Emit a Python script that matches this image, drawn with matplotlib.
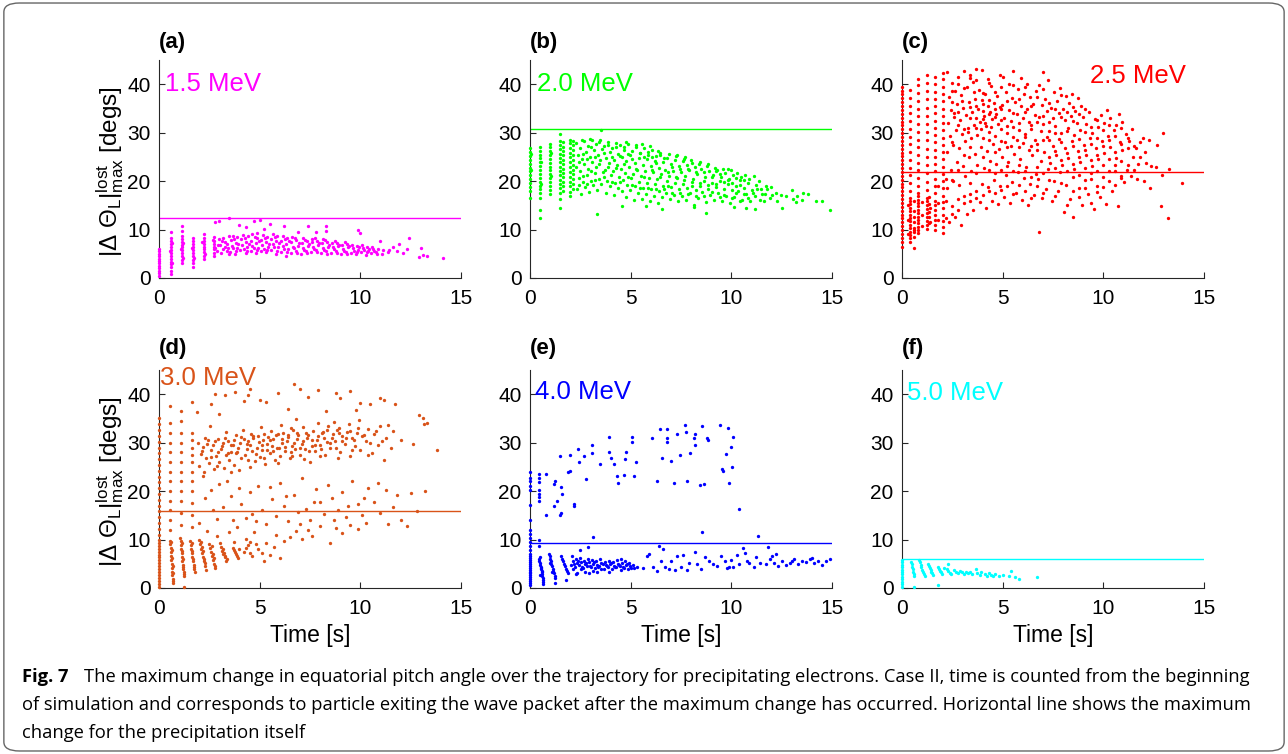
import numpy as np
import matplotlib.pyplot as plt
from matplotlib.patches import FancyBboxPatch

# ---- data (time [s], max pitch angle change [deg]) ----
energies = ['1.5 MeV', '2.0 MeV', '2.5 MeV', '3.0 MeV', '4.0 MeV', '5.0 MeV']
panels = ['(a)', '(b)', '(c)', '(d)', '(e)', '(f)']
levels = [12.3, 30.7, 21.8, 15.9, 9.2, 5.9]   # max change for the precipitation itself

# vertical stripes of points released at (almost) the same time
stripes_a = [
    (0.02, [0.5, 1.0, 1.5, 2.0, 2.5, 3.0, 3.5, 4.0, 4.5, 5.0, 5.5, 6.0]),
    (0.60, [0.8, 1.5, 2.2, 2.8, 3.4, 4.0, 4.6, 5.2, 5.8, 6.4, 7.0, 7.6, 8.2, 9.4]),
    (1.15, [3.0, 3.8, 4.5, 5.1, 5.7, 6.3, 6.9, 7.5, 8.0, 8.6, 9.8, 10.7]),
    (1.70, [2.2, 3.0, 3.8, 4.5, 5.2, 5.8, 6.4, 7.0, 7.6, 8.3]),
    (2.22, [3.9, 4.6, 5.3, 5.9, 6.5, 7.1, 7.7, 8.3, 9.0]),
    (2.75, [4.5, 5.2, 5.9, 6.5, 7.1, 7.7, 8.4]),
]
pts_a = [
    (2.9, 5.5), (2.95, 6.8), (2.98, 8.0), (3.1, 5.2), (3.2, 6.0), (3.05, 6.8), (3.3, 7.5), (3.2, 8.3),
    (3.4, 5.6), (3.4, 7.0), (3.5, 8.6), (3.3, 6.4), (3.5, 4.9), (3.15, 7.7), (3.45, 6.2),
    (3.55, 5.4), (3.64, 6.6), (3.58, 7.8), (3.66, 8.7), (3.8, 5.0), (3.9, 6.2), (3.83, 7.3), (3.88, 8.4),
    (4.05, 5.7), (4.14, 6.9), (4.08, 8.0), (4.16, 8.9), (4.3, 5.2), (4.38, 6.4), (4.33, 7.5), (4.4, 8.6),
    (4.55, 5.5), (4.64, 6.7), (4.58, 7.7), (4.62, 9.0), (4.8, 5.1), (4.9, 6.1), (4.83, 7.2), (4.88, 8.3),
    (4.86, 9.2), (5.05, 5.6), (5.14, 6.8), (5.08, 7.9), (5.16, 8.8), (5.3, 5.3), (5.4, 6.3), (5.33, 7.4),
    (5.38, 8.5), (5.55, 5.8), (5.64, 7.0), (5.58, 8.1), (5.66, 9.1), (5.8, 5.0), (5.9, 6.5), (5.83, 7.6),
    (5.88, 8.7), (6.05, 5.4), (6.14, 6.6), (6.08, 7.7), (6.16, 8.6), (6.3, 4.6), (6.4, 5.9), (6.33, 7.1),
    (6.38, 8.3), (6.55, 5.2), (6.64, 6.4), (6.58, 7.5), (6.62, 8.5), (6.8, 5.6), (6.9, 6.7), (6.83, 7.8),
    (7.05, 5.0), (7.14, 6.2), (7.08, 7.3), (7.16, 8.3), (7.3, 5.5), (7.4, 6.6), (7.33, 7.6),
    (7.55, 5.3), (7.64, 6.4), (7.58, 7.4), (7.62, 8.1), (7.8, 5.7), (7.9, 6.8), (7.83, 7.7),
    (8.05, 5.1), (8.14, 6.2), (8.08, 7.2), (8.16, 8.0), (8.3, 5.5), (8.4, 6.5), (8.33, 7.5),
    (8.55, 5.2), (8.64, 6.3), (8.58, 7.2), (8.8, 5.6), (8.9, 6.6), (8.83, 7.3),
    (9.05, 5.0), (9.14, 6.0), (9.08, 6.9), (9.3, 5.4), (9.4, 6.4), (9.33, 7.0),
    (9.55, 5.2), (9.64, 6.1), (9.58, 6.8), (9.8, 4.9), (9.9, 5.8), (9.83, 6.6),
    (10.05, 5.3), (10.14, 6.2), (10.08, 6.8), (10.3, 4.8), (10.4, 5.6), (10.33, 6.4),
    (10.55, 5.1), (10.64, 5.9), (10.58, 6.3), (10.8, 5.4), (10.9, 6.0), (11.1, 5.0), (11.15, 5.7),
    (11.4, 5.3), (11.45, 5.8), (11.8, 5.5), (12.1, 5.2),
    (12.4, 8.2), (12.9, 4.4), (13.1, 4.8), (13.3, 4.6), (14.1, 4.2), (13.0, 6.2), (11.0, 7.6), (11.9, 7.1),
    (9.9, 9.9), (10.0, 9.3), (8.3, 10.8), (8.3, 9.8), (7.4, 10.8), (6.2, 10.8), (5.5, 11.1), (5.0, 11.9),
    (4.7, 11.7), (4.3, 10.6), (4.0, 10.9), (3.5, 12.3), (3.0, 11.8), (2.8, 11.5), (5.2, 10.2), (7.8, 9.6),
    (6.9, 9.5), (12.3, 6.0), (11.6, 6.5),
]
extra_a = [
    (3.7, 6.1), (3.95, 7.0), (4.2, 6.0), (4.45, 7.1), (4.7, 6.2), (4.95, 7.6), (5.2, 6.0), (5.45, 7.0),
    (5.7, 6.4), (5.95, 7.2), (6.2, 6.0), (6.45, 7.6), (6.7, 6.1), (6.95, 7.3), (7.2, 5.8), (7.45, 7.0),
    (7.7, 6.0), (7.95, 7.2), (8.2, 5.8), (8.45, 6.9), (8.7, 5.9), (8.95, 6.9), (9.2, 5.6), (9.45, 6.7),
    (9.7, 5.6), (9.95, 6.3), (10.2, 5.7), (10.45, 6.0), (10.7, 5.6),
    (3.75, 8.0), (4.25, 8.2), (4.75, 8.5), (5.25, 8.3), (5.75, 8.4), (6.25, 8.0), (6.75, 8.2), (7.25, 7.9),
    (7.75, 8.3), (8.25, 7.8), (8.75, 7.6), (9.25, 7.4),
    (3.85, 5.6), (4.35, 5.6), (4.85, 5.8), (5.35, 5.7), (5.85, 5.6), (6.35, 5.4), (6.85, 5.2), (7.35, 5.1),
    (7.85, 5.3), (8.35, 5.0), (8.85, 5.2), (9.35, 4.9), (9.85, 5.3), (10.35, 5.3), (10.85, 5.0),
    (0.65, 3.1), (0.56, 5.5), (0.66, 7.3), (1.2, 4.2), (1.1, 6.0), (1.2, 7.2), (1.75, 4.2), (1.65, 6.1),
    (2.28, 5.0), (2.15, 7.4), (2.8, 6.2), (2.68, 7.9),
]

stripes_b = [
    (0.02, [16.5, 18.0, 18.8, 19.6, 20.4, 21.2, 22.0, 22.8, 23.6, 24.4, 25.2, 26.0, 26.8]),
    (0.50, [12.3, 14.1, 16.5, 17.5, 18.3, 19.1, 19.9, 20.7, 21.5, 22.3, 23.1, 23.9, 24.7, 25.5, 26.3, 27.1]),
    (1.00, [17.3, 18.2, 19.0, 19.8, 20.6, 21.4, 22.2, 23.0, 23.8, 24.6, 25.4, 26.2, 27.0, 27.7]),
    (1.50, [14.5, 16.3, 17.5, 18.5, 19.4, 20.3, 21.2, 22.1, 23.0, 23.9, 24.8, 25.7, 26.6, 27.5, 28.3, 29.7]),
    (1.62, [18.0, 19.0, 19.9, 20.8, 21.7, 22.6, 23.5, 24.4, 25.3, 26.2, 27.1, 28.0]),
    (2.00, [16.9, 17.8, 18.9, 19.9, 20.9, 21.9, 22.9, 23.9, 24.9, 25.9, 26.9, 27.9, 28.4]),
    (2.12, [18.3, 19.4, 20.4, 21.4, 22.4, 23.4, 24.4, 25.4, 26.4, 27.4, 28.2]),
]
pts_b = [
    (2.35, 18.3), (2.42, 20.6), (2.3, 23.0), (2.39, 25.3), (2.28, 27.8),
    (2.55, 17.4), (2.62, 19.8), (2.5, 22.1), (2.59, 24.5), (2.48, 26.8), (2.57, 28.6),
    (2.75, 18.8), (2.82, 21.2), (2.7, 23.6), (2.79, 26.0), (2.68, 28.2),
    (2.95, 17.8), (3.02, 20.1), (2.9, 22.5), (2.99, 24.9), (2.88, 27.3), (2.97, 28.8),
    (3.15, 19.2), (3.22, 21.6), (3.1, 24.0), (3.19, 26.4), (3.08, 28.4),
    (3.35, 18.1), (3.42, 20.5), (3.3, 22.9), (3.39, 25.3), (3.28, 27.7), (3.35, 13.2),
    (3.55, 19.5), (3.62, 21.9), (3.5, 24.3), (3.59, 26.7), (3.48, 28.5), (3.55, 30.5),
    (3.75, 17.6), (3.82, 20.0), (3.7, 22.4), (3.79, 24.8), (3.68, 27.2),
    (3.95, 18.9), (4.02, 21.3), (3.9, 23.7), (3.99, 26.1), (3.88, 28.1),
    (4.15, 17.2), (4.22, 19.6), (4.1, 22.0), (4.19, 24.4), (4.08, 26.8),
    (4.35, 18.5), (4.42, 20.9), (4.3, 23.3), (4.39, 25.7), (4.28, 27.9),
    (4.55, 17.9), (4.62, 20.2), (4.5, 22.6), (4.59, 25.0), (4.48, 27.4), (4.55, 14.8),
    (4.75, 16.8), (4.82, 19.3), (4.7, 21.7), (4.79, 24.1), (4.68, 26.5), (4.77, 28.0),
    (4.95, 18.2), (5.02, 20.6), (4.9, 23.0), (4.99, 25.4), (4.88, 27.6),
    (5.15, 16.2), (5.22, 19.0), (5.1, 21.4), (5.19, 23.8), (5.08, 26.2),
    (5.35, 17.5), (5.42, 19.9), (5.3, 22.3), (5.39, 24.7), (5.28, 27.1),
    (5.55, 16.4), (5.62, 18.6), (5.5, 21.0), (5.59, 23.4), (5.48, 25.8), (5.57, 27.7),
    (5.75, 17.3), (5.82, 19.7), (5.7, 22.1), (5.79, 24.5), (5.68, 26.9), (5.75, 14.9),
    (5.95, 16.0), (6.02, 18.3), (5.9, 20.7), (5.99, 23.1), (5.88, 25.5), (5.97, 27.3),
    (6.15, 17.0), (6.22, 19.4), (6.1, 21.8), (6.19, 24.2), (6.08, 26.5),
    (6.35, 15.5), (6.42, 18.0), (6.3, 20.4), (6.39, 22.8), (6.28, 25.2), (6.37, 26.2),
    (6.55, 16.8), (6.62, 19.1), (6.5, 21.5), (6.59, 23.9), (6.48, 25.9), (6.55, 14.3),
    (6.75, 17.6), (6.82, 20.0), (6.7, 22.4), (6.79, 24.8),
    (6.95, 16.3), (7.02, 18.7), (6.9, 21.1), (6.99, 23.5), (6.88, 25.7),
    (7.15, 17.2), (7.22, 19.6), (7.1, 22.0), (7.19, 24.4),
    (7.35, 15.8), (7.42, 18.3), (7.3, 20.7), (7.39, 23.1), (7.28, 25.4),
    (7.55, 17.0), (7.62, 19.4), (7.5, 21.8), (7.59, 24.2),
    (7.75, 16.2), (7.82, 18.6), (7.7, 21.0), (7.79, 23.4), (7.68, 25.0),
    (7.95, 17.5), (8.02, 19.9), (7.9, 22.3), (7.99, 24.4),
    (8.15, 15.1), (8.22, 18.1), (8.1, 20.5), (8.19, 22.9), (8.15, 14.7),
    (8.35, 16.6), (8.42, 19.0), (8.3, 21.4), (8.39, 23.5),
    (8.55, 17.7), (8.62, 20.1), (8.5, 22.5),
    (8.75, 15.6), (8.82, 18.3), (8.7, 20.8), (8.79, 23.2), (8.75, 13.5),
    (8.95, 17.2), (9.02, 19.6), (8.9, 22.0),
    (9.15, 16.1), (9.22, 18.8), (9.1, 21.2), (9.19, 22.8),
    (9.35, 17.6), (9.42, 20.0), (9.3, 22.3),
    (9.55, 15.9), (9.62, 18.4), (9.5, 20.8), (9.59, 22.6),
    (9.75, 17.0), (9.82, 19.4), (9.7, 21.7),
    (9.95, 15.4), (10.02, 18.1), (9.9, 20.5), (9.99, 22.2),
    (10.15, 16.7), (10.22, 19.0), (10.1, 21.3), (10.15, 14.6),
    (10.35, 17.9), (10.42, 20.2), (10.3, 21.6),
    (10.55, 16.2), (10.62, 18.6), (10.5, 20.9),
    (10.75, 17.4), (10.82, 19.6), (10.7, 21.2), (10.75, 14.5),
    (10.95, 15.8), (11.02, 18.2), (10.9, 20.5),
    (11.15, 17.0), (11.22, 19.3), (11.1, 21.0), (11.15, 14.2),
    (11.4, 16.2), (11.45, 18.4), (11.35, 20.0), (11.65, 17.3), (11.7, 19.1), (11.6, 15.9),
    (11.9, 16.5), (11.95, 18.7), (12.2, 17.6), (12.25, 15.8), (12.5, 14.5), (12.45, 17.2),
    (12.7, 16.9), (13.0, 18.1), (13.05, 16.4), (13.2, 15.6), (13.25, 17.0), (13.5, 16.2),
    (13.55, 17.6), (13.8, 17.4), (14.2, 16.0), (14.5, 15.8), (14.9, 14.1),
]
extra_b = [
    (2.45, 19.2), (2.45, 24.0), (2.65, 21.0), (2.65, 25.6), (2.85, 19.5), (2.85, 24.6), (3.05, 22.0),
    (3.05, 27.0), (3.25, 20.3), (3.25, 25.0), (3.45, 23.5), (3.45, 28.0), (3.65, 20.8), (3.65, 25.8),
    (3.85, 23.0), (3.85, 27.5), (4.05, 19.8), (4.05, 24.9), (4.25, 22.7), (4.25, 27.0), (4.45, 19.9),
    (4.45, 25.1), (4.65, 23.6), (4.65, 27.1), (4.85, 20.8), (4.85, 25.6), (5.05, 19.3), (5.05, 24.5),
    (5.25, 22.6), (5.25, 27.5), (5.45, 18.6), (5.45, 25.8), (5.65, 20.9), (5.65, 24.9), (5.85, 18.6),
    (5.85, 26.0), (6.05, 22.3), (6.05, 25.0), (6.25, 18.4), (6.25, 23.7), (6.45, 20.9), (6.45, 25.5),
    (6.65, 18.4), (6.65, 24.8), (6.85, 21.8), (6.85, 19.0), (7.05, 23.0), (7.05, 17.6), (7.25, 20.8),
    (7.25, 25.2), (7.45, 17.5), (7.45, 22.6), (7.65, 20.3), (7.65, 24.6), (7.85, 17.4), (7.85, 22.5),
    (8.05, 19.0), (8.05, 23.8), (8.25, 16.9), (8.25, 21.8), (8.45, 19.6), (8.45, 24.0), (8.65, 17.0),
    (8.65, 21.8), (8.85, 19.3), (8.85, 23.5), (9.05, 17.8), (9.05, 20.9), (9.25, 19.5), (9.25, 22.1),
    (9.45, 16.8), (9.45, 21.5), (9.65, 19.8), (9.65, 17.1), (9.85, 20.3), (9.85, 22.5), (10.05, 16.6),
    (10.05, 19.6), (10.25, 17.5), (10.25, 20.6), (10.45, 16.0), (10.45, 19.2), (10.65, 17.3),
    (10.65, 20.3), (10.85, 16.6), (11.05, 17.6), (11.25, 18.3), (11.5, 17.4), (11.75, 18.3), (12.0, 17.2),
    (0.55, 19.5), (0.55, 24.0), (1.05, 21.0), (1.05, 25.8), (0.05, 22.4), (0.05, 25.6),
]

stripes_c = [
    (0.02, [6.4, 7.5, 8.3, 9.1, 9.9, 10.7, 11.5, 12.3, 13.1, 13.9, 14.7, 15.5, 16.3, 17.1, 17.9, 18.7,
            19.5, 20.3, 21.1, 21.9, 22.7, 23.5, 24.3, 25.1, 25.9, 26.7, 27.5, 28.3, 29.1, 29.9, 30.7,
            31.5, 32.3, 33.1, 33.9, 34.7, 35.5, 36.3, 37.1, 37.9, 38.7, 39.5]),
    (0.42, [7.5, 8.2, 8.9, 9.6, 10.3, 11.0, 11.7, 12.4, 13.1, 13.8, 14.5, 15.2, 15.9, 16.6, 18.0, 19.6,
            21.2, 22.8, 24.4, 26.0, 27.6, 29.2, 30.8, 32.4, 34.0, 35.6, 37.2, 38.8]),
    (0.58, [6.2, 8.5, 9.4, 10.4, 11.5, 12.6]),
    (0.82, [9.2, 9.9, 10.6, 11.3, 12.0, 12.7, 13.4, 14.1, 14.8, 15.5, 16.2, 16.9, 17.6, 19.0, 20.6,
            22.2, 23.8, 25.4, 27.0, 28.6, 30.2, 31.8, 33.4, 35.0, 36.6, 38.2, 39.8, 41.0]),
    (1.22, [10.2, 11.0, 11.8, 12.6, 13.4, 14.2, 15.0, 15.8, 16.6, 18.2, 19.9, 21.6, 23.3, 25.0, 26.7,
            28.4, 30.1, 31.8, 33.5, 35.2, 36.9, 38.6, 40.3, 41.9]),
    (1.32, [11.4, 12.5, 13.7, 15.2, 16.8]),
    (1.62, [10.0, 11.0, 12.0, 13.0, 14.0, 15.0, 16.0, 17.5, 19.0, 20.5, 22.0, 23.5, 25.0, 26.5, 28.0,
            29.5, 31.0, 32.5, 34.0, 35.5, 37.0, 38.5, 40.0, 41.5]),
    (2.05, [9.2, 10.5, 11.8, 13.1, 14.4, 15.7, 17.0, 18.5, 20.0, 21.5, 23.0, 24.5, 26.0, 27.5, 29.0,
            30.5, 32.0, 33.5, 35.0, 36.5, 38.0, 39.5, 41.0, 42.3]),
]
pts_c = [
    (2.35, 11.5), (2.47, 14.8), (2.25, 18.6), (2.42, 22.4), (2.22, 26.1), (2.39, 29.3), (2.29, 32.0),
    (2.45, 34.6), (2.32, 37.3), (2.49, 40.2), (2.24, 42.5),
    (2.65, 12.6), (2.77, 16.3), (2.55, 20.1), (2.72, 24.0), (2.52, 27.4), (2.69, 30.5), (2.59, 33.2),
    (2.75, 35.9), (2.62, 38.7), (2.79, 41.6),
    (2.95, 11.0), (3.07, 15.5), (2.85, 19.3), (3.02, 23.1), (2.82, 26.8), (2.99, 29.8), (2.89, 32.6),
    (3.05, 35.1), (2.92, 37.8), (3.09, 42.8),
    (3.25, 13.2), (3.37, 17.4), (3.15, 21.0), (3.32, 24.9), (3.12, 28.2), (3.29, 31.0), (3.19, 33.7),
    (3.35, 36.4), (3.22, 39.5), (3.39, 42.0),
    (3.55, 14.0), (3.67, 18.0), (3.45, 22.0), (3.62, 25.7), (3.42, 28.9), (3.59, 31.6), (3.49, 34.3),
    (3.65, 37.0), (3.52, 40.4), (3.69, 43.2),
    (3.85, 15.6), (3.97, 19.5), (3.75, 23.3), (3.92, 27.0), (3.72, 29.5), (3.89, 32.3), (3.79, 34.9),
    (3.95, 36.8), (3.82, 38.9), (3.99, 42.9),
    (4.15, 14.4), (4.27, 18.8), (4.05, 22.7), (4.22, 26.2), (4.02, 29.0), (4.19, 31.3), (4.09, 33.5),
    (4.25, 35.6), (4.12, 37.9), (4.29, 41.0),
    (4.45, 16.0), (4.57, 20.2), (4.35, 24.1), (4.52, 27.6), (4.32, 30.1), (4.49, 32.8), (4.39, 34.2),
    (4.55, 36.1), (4.42, 39.7),
    (4.75, 15.2), (4.87, 19.0), (4.65, 23.6), (4.82, 26.6), (4.62, 29.4), (4.79, 31.9), (4.69, 33.9),
    (4.85, 35.3), (4.72, 37.5), (4.89, 42.0),
    (5.05, 16.8), (5.17, 21.3), (4.95, 25.0), (5.12, 28.1), (4.92, 30.7), (5.09, 33.1), (4.99, 35.8),
    (5.15, 38.4), (5.02, 41.5),
    (5.35, 15.4), (5.47, 19.8), (5.25, 23.9), (5.42, 27.3), (5.22, 30.0), (5.39, 32.5), (5.29, 34.7),
    (5.45, 37.1), (5.32, 40.0), (5.49, 42.7),
    (5.65, 17.6), (5.77, 21.9), (5.55, 25.6), (5.72, 28.6), (5.52, 31.2), (5.69, 33.8), (5.59, 36.3),
    (5.75, 39.1),
    (5.95, 16.1), (6.07, 20.6), (5.85, 24.5), (6.02, 27.9), (5.82, 30.6), (5.99, 33.0), (5.89, 35.5),
    (6.05, 38.0), (5.92, 41.3),
    (6.25, 15.0), (6.37, 19.4), (6.15, 23.0), (6.32, 26.5), (6.12, 29.7), (6.29, 32.2), (6.19, 34.8),
    (6.35, 37.4), (6.22, 40.1),
    (6.55, 17.2), (6.67, 21.5), (6.45, 25.3), (6.62, 28.4), (6.42, 31.5), (6.59, 33.6), (6.49, 36.0),
    (6.65, 38.6),
    (6.8, 9.6), (6.97, 16.5), (6.75, 20.4), (6.92, 24.2), (6.72, 27.7), (6.89, 30.4), (6.79, 33.2),
    (6.95, 35.7), (6.82, 39.8), (6.99, 42.5),
    (7.15, 18.3), (7.27, 22.6), (7.05, 26.0), (7.22, 29.1), (7.02, 31.8), (7.19, 34.5), (7.09, 37.0),
    (7.25, 40.8),
    (7.45, 15.8), (7.57, 20.0), (7.35, 23.7), (7.52, 27.2), (7.32, 30.3), (7.49, 33.0), (7.39, 35.2),
    (7.55, 38.4),
    (7.75, 17.9), (7.87, 21.8), (7.65, 25.5), (7.82, 28.8), (7.62, 31.4), (7.79, 34.0), (7.69, 36.6),
    (7.85, 39.2),
    (8.05, 13.6), (8.17, 19.2), (7.95, 23.4), (8.12, 26.9), (7.92, 29.9), (8.09, 32.6), (7.99, 35.0),
    (8.15, 37.6),
    (8.35, 16.4), (8.47, 20.9), (8.25, 24.8), (8.42, 28.3), (8.22, 31.0), (8.39, 33.5), (8.29, 36.2),
    (8.45, 38.1),
    (8.5, 12.7), (8.77, 18.5), (8.55, 22.5), (8.72, 26.3), (8.52, 29.5), (8.69, 32.0), (8.59, 34.5),
    (8.75, 37.2),
    (8.95, 15.0), (9.07, 20.2), (8.85, 24.0), (9.02, 27.5), (8.82, 30.6), (8.99, 33.3), (8.89, 35.6),
    (9.25, 17.3), (9.37, 21.6), (9.15, 25.4), (9.32, 28.9), (9.12, 31.7), (9.29, 34.2),
    (9.55, 14.2), (9.67, 19.0), (9.45, 23.2), (9.62, 26.8), (9.42, 30.0), (9.59, 32.8),
    (9.85, 16.8), (9.97, 20.8), (9.75, 24.6), (9.92, 28.2), (9.72, 31.2), (9.89, 33.7),
    (10.15, 15.3), (10.27, 22.0), (10.05, 25.9), (10.22, 29.4), (10.02, 32.1), (10.19, 34.6),
    (10.45, 18.0), (10.57, 23.3), (10.35, 27.1), (10.52, 30.5), (10.32, 33.0),
    (10.75, 14.8), (10.87, 20.6), (10.65, 24.8), (10.82, 28.0), (10.62, 31.6), (10.79, 33.8),
    (11.05, 19.8), (11.17, 22.4), (10.95, 26.4), (11.12, 29.7), (10.92, 32.2),
    (11.35, 21.0), (11.47, 25.0), (11.25, 28.2), (11.42, 30.8),
    (11.65, 20.5), (11.7, 23.6), (11.6, 26.9), (12.0, 20.0), (12.05, 26.0), (11.95, 29.0),
    (12.3, 18.5), (12.35, 23.2), (12.25, 28.4), (12.6, 23.0), (12.65, 27.5), (12.9, 21.3),
    (12.95, 30.0), (12.85, 14.8), (13.2, 12.4), (13.25, 22.6), (13.9, 19.6),
    (2.6, 34.0), (3.0, 36.5), (3.4, 33.0), (3.7, 35.5), (4.0, 34.5), (4.3, 36.8), (4.6, 33.2),
    (3.3, 30.2), (3.9, 30.8), (4.4, 31.2), (2.8, 31.5), (4.9, 35.0), (2.5, 36.3), (3.6, 38.5), (4.1, 32.0),
]
extra_c = [
    (2.5, 13.2), (2.5, 20.3), (2.5, 28.0), (2.5, 38.6), (2.8, 14.0), (2.8, 22.2), (2.8, 34.3), (2.8, 40.0),
    (3.1, 17.0), (3.1, 25.3), (3.1, 30.8), (3.1, 39.3), (3.4, 15.8), (3.4, 19.7), (3.4, 27.0), (3.4, 35.3),
    (3.4, 41.2), (3.7, 16.5), (3.7, 21.6), (3.7, 31.0), (3.7, 33.1), (3.7, 40.8), (4.0, 17.1), (4.0, 25.0),
    (4.0, 32.8), (4.0, 36.0), (4.0, 38.3), (4.3, 18.0), (4.3, 22.4), (4.3, 28.4), (4.3, 33.8), (4.3, 40.2),
    (4.6, 17.6), (4.6, 21.7), (4.6, 26.0), (4.6, 35.0), (4.6, 38.4), (4.9, 18.2), (4.9, 22.2), (4.9, 28.2),
    (4.9, 32.7), (4.9, 39.5), (5.2, 19.0), (5.2, 23.2), (5.2, 27.0), (5.2, 31.4), (5.2, 36.5),
    (5.5, 17.4), (5.5, 22.0), (5.5, 29.2), (5.5, 34.0), (5.5, 39.8), (5.8, 19.2), (5.8, 23.4), (5.8, 27.0),
    (5.8, 32.0), (5.8, 37.0), (6.1, 18.0), (6.1, 22.1), (6.1, 29.2), (6.1, 34.2), (6.1, 39.4),
    (6.4, 16.6), (6.4, 20.8), (6.4, 27.3), (6.4, 30.8), (6.4, 35.5), (6.7, 19.0), (6.7, 23.0), (6.7, 26.4),
    (6.7, 32.2), (6.7, 37.3), (7.0, 17.5), (7.0, 21.6), (7.0, 28.4), (7.0, 33.4), (7.0, 39.0),
    (7.3, 20.2), (7.3, 25.0), (7.3, 28.4), (7.3, 32.2), (7.3, 36.2), (7.6, 17.0), (7.6, 22.8), (7.6, 26.2),
    (7.6, 30.0), (7.6, 35.0), (7.9, 19.6), (7.9, 24.3), (7.9, 28.0), (7.9, 33.2), (7.9, 37.8),
    (8.2, 15.0), (8.2, 22.0), (8.2, 25.8), (8.2, 30.3), (8.2, 34.3), (8.5, 18.0), (8.5, 23.6), (8.5, 27.3),
    (8.5, 32.4), (8.5, 35.4), (8.8, 16.8), (8.8, 21.3), (8.8, 25.0), (8.8, 28.8), (8.8, 33.8),
    (9.1, 18.6), (9.1, 22.8), (9.1, 26.4), (9.1, 30.2), (9.1, 35.0), (9.4, 15.4), (9.4, 20.4), (9.4, 24.3),
    (9.4, 27.6), (9.4, 31.2), (9.7, 17.8), (9.7, 22.0), (9.7, 25.4), (9.7, 29.0), (9.7, 32.6),
    (10.0, 18.8), (10.0, 23.4), (10.0, 27.2), (10.0, 30.5), (10.3, 20.0), (10.3, 24.6), (10.3, 28.6),
    (10.3, 31.5), (10.6, 19.2), (10.6, 22.0), (10.6, 26.0), (10.6, 29.4), (10.9, 21.0), (10.9, 24.2),
    (10.9, 27.6), (10.9, 31.0), (11.2, 23.3), (11.2, 26.9), (11.2, 29.0), (11.5, 22.4), (11.5, 27.3),
    (11.8, 25.0), (11.8, 28.0), (12.1, 23.7),
    (0.3, 9.0), (0.3, 12.0), (0.3, 15.0), (0.6, 10.0), (0.6, 13.8), (0.6, 16.0), (1.0, 10.8), (1.0, 13.0),
    (1.0, 15.6), (1.4, 11.5), (1.4, 14.5), (1.8, 12.0), (1.8, 15.5), (1.8, 19.0), (2.2, 12.3), (2.2, 16.0),
    (2.2, 20.5),
]

stripes_d = [
    (0.02, [0.3, 0.9, 1.5, 2.1, 2.7, 3.3, 3.9, 4.5, 5.1, 5.7, 6.3, 6.9, 7.5, 8.1, 8.7, 9.3, 9.9, 11.0,
            12.2, 13.4, 14.6, 15.8, 17.0, 18.2, 19.4, 20.6, 21.8, 23.0, 24.2, 25.4, 26.6, 27.8, 29.0,
            30.2, 31.4, 32.6, 33.8, 35.0]),
    (0.55, [12.0, 14.0, 16.0, 18.0, 20.0, 22.0, 24.0, 26.0, 28.0, 30.0, 32.0, 34.0, 37.5]),
    (1.10, [13.0, 15.5, 18.0, 20.0, 22.0, 24.0, 26.0, 28.0, 30.0, 32.0, 34.5, 36.5]),
    (1.62, [12.5, 15.0, 17.5, 20.0, 22.0, 24.0, 26.0, 27.5, 29.0, 30.5, 32.0, 38.4]),
]
pts_d = [
    # slanted low clusters
    (0.55, 9.8), (0.57, 9.0), (0.58, 8.2), (0.6, 7.4), (0.6, 6.6), (0.62, 5.8), (0.63, 5.0), (0.64, 4.2),
    (0.65, 3.4), (0.66, 2.6), (0.68, 1.8), (0.7, 1.0),
    (1.05, 10.4), (1.08, 9.6), (1.1, 8.8), (1.12, 8.0), (1.13, 7.2), (1.15, 6.4), (1.17, 5.6), (1.19, 4.8),
    (1.21, 4.0), (1.23, 3.2), (1.25, 2.4), (1.22, 0.3),
    (1.55, 9.6), (1.58, 8.8), (1.6, 8.0), (1.63, 7.2), (1.66, 6.4), (1.7, 5.6), (1.73, 4.8), (1.75, 4.0),
    (1.8, 3.2),
    (2.0, 10.0), (2.05, 9.0), (2.1, 8.0), (2.15, 7.2), (2.2, 6.4), (2.25, 5.6), (2.3, 4.6), (2.35, 3.8),
    (2.5, 9.0), (2.55, 8.2), (2.6, 7.4), (2.65, 6.6), (2.7, 5.8), (2.75, 5.0), (2.8, 4.2),
    (3.1, 8.5), (3.15, 7.7), (3.2, 7.0), (3.3, 6.3), (3.35, 5.5), (3.05, 9.3),
    (3.7, 8.3), (3.8, 7.4), (3.9, 6.6), (4.0, 8.0), (3.75, 9.5),
    (4.2, 7.5), (4.4, 8.8), (4.6, 6.6), (4.5, 9.5), (4.7, 11.5), (4.9, 8.0), (5.1, 7.2), (5.3, 9.2),
    (5.2, 5.5), (5.5, 6.8), (5.7, 8.5), (6.0, 6.2), (6.2, 9.6), (6.5, 10.5), (6.8, 11.8), (7.1, 10.2),
    (7.4, 12.0), (7.6, 10.8), (8.0, 12.8), (8.5, 9.3), (8.8, 12.4), (9.1, 11.3), (9.5, 13.0), (9.9, 12.2),
    (10.3, 13.5), (4.3, 10.2), (5.8, 11.0), (3.5, 11.5), (2.9, 10.8), (2.4, 11.8),
    # sparse middle
    (2.0, 13.5), (2.3, 18.5), (2.6, 20.3), (2.9, 14.2), (3.2, 16.8), (3.4, 22.1), (3.6, 19.0), (3.9, 12.6),
    (4.1, 17.4), (4.3, 14.5), (4.5, 19.9), (4.6, 15.3), (4.9, 21.0), (5.1, 16.2), (5.3, 13.2), (5.6, 18.3),
    (5.8, 14.8), (6.0, 21.6), (6.2, 17.0), (6.4, 13.8), (6.7, 19.2), (6.9, 15.6), (7.1, 22.8), (7.3, 16.4),
    (7.5, 14.0), (7.8, 20.4), (8.0, 17.7), (8.2, 15.2), (8.4, 21.2), (8.6, 18.6), (8.9, 16.0), (9.1, 19.8),
    (9.3, 14.7), (9.6, 22.0), (9.9, 17.3), (10.1, 15.0), (10.4, 20.7), (10.7, 17.8), (11.0, 15.4),
    (11.3, 20.2), (11.6, 16.8), (12.0, 14.1), (12.5, 19.6), (12.8, 15.9), (13.2, 20.0), (12.3, 12.8),
    (11.4, 13.3),
    # upper band
    (2.0, 25.2), (2.1, 27.6), (1.92, 30.0), (2.25, 24.0), (2.35, 26.8), (2.17, 29.2), (2.31, 31.0),
    (2.5, 25.8), (2.6, 28.4), (2.42, 30.6), (2.56, 33.5), (2.75, 24.6), (2.85, 27.2), (2.67, 29.6),
    (3.0, 26.0), (3.1, 28.8), (2.92, 30.8), (3.25, 24.8), (3.35, 27.4), (3.17, 29.9), (3.31, 32.2),
    (3.5, 26.5), (3.6, 28.1), (3.42, 30.4), (3.75, 25.4), (3.85, 27.8), (3.67, 29.5), (3.81, 31.5),
    (4.0, 24.3), (4.1, 26.9), (3.92, 29.0), (4.06, 31.2), (4.25, 27.5), (4.35, 29.8), (4.17, 32.6),
    (4.5, 25.0), (4.6, 28.2), (4.42, 30.3), (4.56, 31.8), (4.75, 26.2), (4.85, 29.0), (4.67, 30.9),
    (5.0, 27.0), (5.1, 29.6), (4.92, 31.4), (5.06, 33.2), (5.25, 25.6), (5.35, 28.5), (5.17, 30.5),
    (5.5, 27.8), (5.6, 29.3), (5.42, 31.1), (5.56, 32.4), (5.75, 26.4), (5.85, 28.9), (5.67, 30.7),
    (6.0, 27.3), (6.1, 29.9), (5.92, 31.8), (6.06, 33.6), (6.25, 28.2), (6.35, 30.4), (6.17, 32.1),
    (6.5, 26.8), (6.6, 29.4), (6.42, 31.2), (6.56, 33.0), (6.75, 28.6), (6.85, 30.8), (6.67, 32.7),
    (6.81, 34.8), (7.0, 27.5), (7.1, 29.8), (6.92, 31.6), (7.25, 28.8), (7.35, 30.9), (7.17, 33.3),
    (7.5, 26.0), (7.6, 29.3), (7.42, 31.5), (7.75, 28.3), (7.85, 30.6), (7.67, 32.4),
    (8.0, 29.6), (8.1, 31.9), (7.92, 34.0), (8.25, 27.4), (8.35, 30.2), (8.17, 32.3),
    (8.5, 28.9), (8.6, 31.0), (8.42, 33.4), (8.75, 30.4), (8.85, 32.6), (8.67, 34.3),
    (9.0, 28.0), (9.1, 31.4), (8.92, 33.0), (9.25, 29.7), (9.35, 32.2), (9.5, 27.2), (9.6, 30.9),
    (9.42, 33.8), (9.75, 29.3), (9.85, 32.0), (10.0, 28.5), (10.1, 31.3), (9.92, 34.6),
    (10.3, 30.4), (10.4, 32.9), (10.6, 27.8), (10.7, 31.8), (10.9, 29.6), (11.0, 33.5),
    (11.2, 26.5), (11.3, 31.0), (11.5, 29.0), (11.6, 32.5), (12.0, 30.5), (12.6, 29.8), (12.9, 35.8),
    (13.1, 35.2), (13.15, 33.8), (13.3, 34.0), (13.8, 28.5),
    # sparse top
    (1.9, 36.4), (2.6, 38.0), (2.8, 40.1), (3.3, 39.8), (3.8, 40.5), (4.2, 38.7), (4.5, 41.0), (4.4, 39.9),
    (5.0, 38.9), (5.3, 38.5), (5.9, 40.2), (6.7, 42.2), (7.0, 41.0), (7.4, 39.5), (7.9, 40.8), (8.8, 40.3),
    (9.0, 39.3), (9.5, 40.6), (10.0, 38.2), (10.5, 37.9), (11.0, 39.2), (11.2, 38.8), (11.7, 38.0),
    (8.3, 36.5), (6.4, 37.0), (9.8, 36.8), (3.0, 36.0),
]
extra_d = [
    (2.15, 28.3), (2.4, 29.8), (2.6, 27.0), (2.8, 30.3), (2.95, 28.0), (3.15, 29.3), (3.3, 31.0),
    (3.45, 27.8), (3.6, 29.6), (3.75, 30.6), (3.9, 28.0), (4.05, 29.9), (4.2, 30.8), (4.35, 28.7),
    (4.5, 29.5), (4.65, 31.4), (4.8, 27.6), (4.95, 30.2), (5.1, 28.4), (5.2, 31.8), (5.35, 29.7),
    (5.5, 30.6), (5.65, 28.2), (5.8, 31.5), (5.95, 29.0), (6.1, 30.8), (6.25, 29.2), (6.4, 31.6),
    (6.55, 28.0), (6.7, 30.0), (6.85, 31.9), (7.0, 28.9), (7.15, 30.4), (7.3, 32.0), (7.45, 28.2),
    (7.6, 30.6), (7.75, 29.6), (7.9, 31.4), (8.05, 28.7), (8.2, 30.9), (8.35, 32.6), (8.5, 30.0),
    (8.65, 31.7), (8.8, 29.0), (8.95, 32.0), (9.1, 30.3), (9.3, 31.0), (9.5, 32.5), (9.7, 30.6),
    (9.9, 33.0), (10.2, 31.6), (10.5, 30.0), (10.8, 32.4), (11.1, 30.4), (11.4, 33.6),
    (2.2, 23.2), (2.9, 25.2), (3.6, 24.0), (4.4, 26.5), (5.2, 26.8), (5.9, 25.9), (6.6, 27.3), (7.2, 26.6),
    (8.0, 27.2), (8.9, 26.8), (9.6, 28.5), (10.4, 27.4),
    (0.62, 9.4), (0.64, 7.8), (0.66, 6.2), (0.68, 4.6), (0.7, 3.0), (0.72, 1.4), (1.14, 9.2), (1.17, 7.6),
    (1.19, 6.0), (1.21, 4.4), (1.24, 2.8), (1.62, 9.2), (1.66, 7.6), (1.7, 6.0), (1.74, 4.4), (2.1, 9.5),
    (2.15, 8.5), (2.2, 7.6), (2.26, 6.0), (2.3, 5.1), (2.62, 8.6), (2.67, 7.0), (2.72, 6.2), (2.78, 4.6),
    (3.2, 8.1), (3.25, 7.3), (3.3, 6.7), (3.4, 5.9), (3.75, 7.9), (3.85, 7.0), (3.95, 6.2), (4.3, 8.3),
    (4.5, 7.2), (4.8, 9.0),
    (2.7, 16.0), (3.0, 21.5), (3.7, 14.0), (4.0, 20.6), (4.8, 13.8), (5.5, 20.8), (6.3, 19.0), (7.0, 13.3),
    (7.7, 17.8), (8.7, 14.0), (9.4, 17.0), (10.2, 18.6), (10.9, 21.6), (11.8, 19.2),
]

stripes_e = [
    (0.02, [0.6, 1.0, 1.4, 1.8, 2.2, 2.6, 3.0, 3.4, 3.8, 4.2, 4.6, 5.0, 5.4, 5.8, 6.2, 6.6, 7.0, 7.8,
            8.6, 9.4, 10.3, 11.2, 12.0, 14.0, 17.2, 20.2, 21.0, 22.0, 22.8, 23.9]),
    (0.45, [8.6, 10.0, 18.0, 18.7, 19.5, 20.2, 21.8, 22.8, 23.5]),
]
pts_e = [
    (0.45, 6.0), (0.47, 5.6), (0.5, 5.2), (0.52, 4.8), (0.54, 4.4), (0.56, 4.0), (0.58, 3.6), (0.6, 3.2),
    (0.61, 2.8), (0.62, 2.4), (0.63, 2.0), (0.64, 1.6), (0.65, 1.2), (0.65, 0.8), (0.48, 6.4),
    (0.95, 7.0), (0.98, 6.5), (1.0, 6.0), (1.03, 5.5), (1.06, 5.0), (1.1, 4.5), (1.13, 4.0), (1.16, 3.5),
    (1.2, 3.0), (1.22, 2.5), (1.24, 2.0), (1.25, 1.0),
    (0.8, 23.5), (0.8, 15.0), (1.2, 17.0), (1.2, 21.5), (1.25, 22.0), (1.35, 18.0),
    (1.55, 6.5), (1.6, 6.0), (1.65, 5.5), (1.7, 5.0), (1.75, 4.5), (1.8, 4.0), (1.85, 3.5), (1.78, 1.6),
    (1.9, 3.0),
    (1.5, 27.2), (1.55, 20.8), (1.6, 19.5), (1.55, 15.5), (1.5, 15.0), (1.9, 24.0), (2.2, 17.0),
    (2.1, 6.5), (2.15, 5.5), (2.05, 4.8), (2.12, 4.0), (2.3, 5.9), (2.35, 5.2), (2.25, 4.4), (2.32, 3.0),
    (2.28, 2.8), (2.5, 6.1), (2.55, 5.4), (2.45, 4.7), (2.52, 3.9), (2.5, 7.8), (2.7, 5.6), (2.75, 4.9),
    (2.65, 4.2), (2.72, 3.4), (2.9, 6.0), (2.95, 5.3), (2.85, 4.5), (2.92, 3.0), (2.9, 8.4),
    (3.1, 5.7), (3.15, 5.0), (3.05, 4.3), (3.12, 3.6), (3.3, 5.5), (3.35, 4.8), (3.25, 4.1), (3.32, 3.2),
    (3.5, 5.9), (3.55, 5.2), (3.45, 4.5), (3.52, 3.9), (3.7, 5.4), (3.75, 4.7), (3.65, 4.0),
    (3.9, 5.6), (3.95, 4.9), (3.85, 4.3), (3.92, 3.4), (4.1, 5.3), (4.15, 4.6), (4.05, 4.0),
    (4.3, 5.7), (4.35, 5.0), (4.25, 4.4), (4.5, 5.9), (4.55, 5.2), (4.45, 4.5), (4.52, 3.8),
    (4.7, 5.5), (4.75, 4.8), (4.65, 4.2), (4.9, 5.1), (4.95, 4.5), (4.85, 3.9), (5.1, 4.7), (5.15, 4.2),
    (5.3, 4.4), (5.6, 4.1), (5.8, 6.5), (5.9, 7.0), (6.1, 4.3), (6.3, 3.6), (6.4, 8.7), (6.5, 5.5),
    (6.6, 8.1), (6.7, 4.4), (6.9, 4.0), (7.0, 5.5), (7.2, 3.8), (7.3, 6.5), (7.5, 4.3), (7.6, 6.8),
    (7.8, 3.8), (7.9, 5.1), (8.2, 7.5), (8.3, 4.9), (8.5, 3.9), (8.7, 6.4), (8.9, 5.6), (9.1, 5.0),
    (9.3, 4.5), (9.5, 6.7), (9.7, 5.5), (9.8, 4.2), (10.0, 5.8), (10.1, 4.3), (10.3, 6.8), (10.4, 5.0),
    (10.6, 8.2), (10.7, 7.3), (10.9, 5.1), (11.1, 4.3), (11.2, 6.3), (11.4, 5.2), (11.3, 10.7),
    (11.8, 8.4), (11.7, 4.9), (11.9, 6.0), (12.1, 5.1), (12.2, 7.0), (12.3, 4.6), (12.5, 5.5),
    (12.7, 4.8), (12.9, 5.2), (13.1, 6.0), (13.3, 4.9), (13.5, 5.6), (13.7, 5.3), (13.9, 5.9),
    (14.1, 5.1), (14.3, 5.5), (14.5, 4.8), (14.7, 5.6), (14.9, 5.9), (13.0, 5.5), (12.0, 6.6),
    (10.8, 5.6), (9.9, 4.4), (14.0, 6.2),
    # upper scatter
    (3.15, 10.5), (2.0, 24.1), (2.0, 27.4), (2.2, 17.4), (2.4, 28.6), (2.45, 26.1), (2.7, 27.2),
    (2.8, 22.6), (3.1, 29.5), (3.1, 27.8), (3.5, 25.5), (3.9, 31.2), (3.9, 28.1), (4.0, 26.8),
    (4.15, 25.5), (4.3, 23.1), (4.35, 21.7), (4.65, 23.4), (4.7, 26.6), (4.75, 28.1), (5.05, 31.2),
    (5.05, 30.2), (5.15, 23.2), (5.25, 26.1), (6.05, 30.9), (6.3, 22.0), (6.45, 32.9), (6.55, 26.9),
    (6.8, 32.9), (6.8, 31.0), (6.8, 30.2), (7.0, 26.2), (7.15, 21.7), (7.3, 31.7), (7.45, 27.4),
    (7.7, 33.6), (7.75, 32.2), (7.8, 22.0), (7.95, 27.8), (8.15, 31.0), (8.2, 29.6), (8.2, 31.7),
    (8.45, 21.2), (8.55, 33.4), (8.65, 21.4), (8.55, 11.5), (8.8, 30.9), (8.85, 30.5), (9.45, 33.6),
    (9.55, 24.5), (9.6, 24.1), (9.75, 27.6), (9.85, 33.1), (9.9, 21.6), (10.0, 29.1), (10.1, 31.2),
    (10.05, 25.0), (10.4, 16.3),
]
extra_e = [
    (2.2, 5.0), (2.4, 5.6), (2.6, 4.4), (2.8, 5.2), (3.0, 4.6), (3.2, 5.3), (3.4, 4.4), (3.6, 5.0),
    (3.8, 4.5), (4.0, 5.1), (4.2, 4.3), (4.4, 4.8), (4.6, 4.4), (4.8, 5.0), (5.0, 4.2), (1.0, 5.2),
    (1.1, 3.2), (0.55, 4.2), (0.52, 2.6),
]

stripes_f = [
    (0.02, [0.3, 0.8, 1.3, 1.8, 2.3, 2.8, 3.3, 3.8, 4.3, 4.8, 5.3, 5.8]),
]
pts_f = [
    (0.47, 5.4), (0.5, 4.9), (0.52, 4.4), (0.55, 3.9), (0.57, 3.4), (0.6, 2.9), (0.62, 2.4), (0.6, 0.2),
    (0.85, 5.8), (0.88, 5.3), (0.92, 4.8), (0.96, 4.3), (1.0, 3.8), (1.04, 3.3), (1.08, 2.8), (1.12, 2.4),
    (1.3, 5.0), (1.34, 4.6), (1.38, 4.2), (1.42, 3.8), (1.46, 3.4), (1.5, 3.0), (1.55, 2.6),
    (1.8, 4.4), (1.85, 4.0), (1.9, 3.6), (1.95, 3.2), (2.0, 2.8), (1.8, 0.6),
    (2.1, 4.2), (2.3, 5.0), (2.25, 3.9), (2.3, 3.5), (2.4, 3.1), (2.45, 2.8),
    (2.6, 3.8), (2.7, 3.4), (2.8, 3.1), (2.9, 3.6), (3.0, 3.2), (3.1, 2.9), (3.2, 3.4),
    (3.3, 3.0), (3.4, 3.3), (3.5, 2.8), (3.7, 3.9), (3.75, 3.1), (3.85, 2.7), (3.9, 3.2),
    (4.1, 2.8), (4.2, 2.5), (4.3, 3.0), (4.4, 2.6), (4.5, 2.4), (4.6, 2.9),
    (4.8, 2.5), (5.0, 2.7), (5.3, 2.4), (5.4, 3.6), (5.6, 2.2), (5.8, 1.9), (6.7, 2.2),
]

stripes = [stripes_a, stripes_b, stripes_c, stripes_d, stripes_e, stripes_f]
points = [pts_a + extra_a, pts_b + extra_b, pts_c + extra_c, pts_d + extra_d, pts_e + extra_e, pts_f]
colors = ['#FF00FF', '#00FF00', '#FF0000', '#D95319', '#0000FF', '#00FFFF']
label_xy = [(0.3, 40.0), (0.35, 40.0), (9.35, 41.7), (0.05, 43.4), (0.25, 40.5), (0.25, 40.3)]

plt.rcParams['font.family'] = ['Liberation Sans', 'DejaVu Sans']
plt.rcParams['mathtext.fontset'] = 'custom'
plt.rcParams['mathtext.rm'] = 'Liberation Sans'
plt.rcParams['mathtext.it'] = 'Liberation Sans:italic'
plt.rcParams['mathtext.bf'] = 'Liberation Sans:bold'

fig = plt.figure(figsize=(12.88, 7.54), dpi=100)

lefts = [0.1234, 0.4115, 0.7003]
bottoms = [0.6313, 0.2202]
W, H = 0.2345, 0.289
ink = '#262626'

for i in range(6):
    r, c = divmod(i, 3)
    ax = fig.add_axes([lefts[c], bottoms[r], W, H])
    t = [s for s, ys in stripes[i] for _ in ys] + [p[0] for p in points[i]]
    y = [v for s, ys in stripes[i] for v in ys] + [p[1] for p in points[i]]
    ax.plot(t, y, 'o', ms=2.4, mew=0, color=colors[i], clip_on=False, zorder=3)
    ax.axhline(levels[i], color=colors[i], lw=1.0, zorder=2)

    ax.set_xlim(0, 15)
    ax.set_ylim(0, 45)
    ax.set_xticks([0, 5, 10, 15])
    ax.set_yticks([0, 10, 20, 30, 40])
    for side in ['top', 'right']:
        ax.spines[side].set_visible(False)
    for side in ['left', 'bottom']:
        ax.spines[side].set_color(ink)
        ax.spines[side].set_linewidth(0.8)
    ax.tick_params(direction='in', length=4, width=0.8, color=ink, labelsize=15, labelcolor='black')
    ax.tick_params(axis='x', pad=8)
    ax.tick_params(axis='y', pad=6)

    lx, ly = label_xy[i]
    ax.text(lx, ly, energies[i], color=colors[i], fontsize=18.5, ha='left', va='center')
    ax.text(0.0, 1.083 if r == 0 else 1.10, panels[i], transform=ax.transAxes,
            fontsize=16, fontweight='bold', ha='left', va='center')

    if r == 1:
        ax.set_xlabel('Time [s]', fontsize=16.5, labelpad=4)

ylab = r'$|\Delta\ \Theta_{\rm L}|^{\rm lost}_{\rm max}$ [degs]'
fig.text(110 / 1288, 1 - 172 / 754, ylab, rotation=90, fontsize=17.5, ha='center', va='center')
fig.text(110 / 1288, 1 - 482 / 754, ylab, rotation=90, fontsize=17.5, ha='center', va='center')

# caption
cap_font = ['Open Sans', 'DejaVu Sans']
cap_size = 13.2
fig.text(22 / 1288, 1 - 677 / 754, 'Fig. 7', family=cap_font, fontweight='bold', fontsize=cap_size,
         ha='left', va='center')
cap_lines = [
    'The maximum change in equatorial pitch angle over the trajectory for precipitating electrons. '
    'Case II, time is counted from the beginning',
    'of simulation and corresponds to particle exiting the wave packet after the maximum change has '
    'occurred. Horizontal line shows the maximum',
    'change for the precipitation itself',
]
fig.text(84 / 1288, 1 - 677 / 754, cap_lines[0], family=cap_font, fontsize=cap_size, ha='left', va='center')
fig.text(22 / 1288, 1 - 705 / 754, cap_lines[1], family=cap_font, fontsize=cap_size, ha='left', va='center')
fig.text(22 / 1288, 1 - 733 / 754, cap_lines[2], family=cap_font, fontsize=cap_size, ha='left', va='center')

frame = FancyBboxPatch((0.003, 0.004), 0.994, 0.992, boxstyle='round,pad=0,rounding_size=0.012',
                       transform=fig.transFigure, fill=False, ec='#666666', lw=1.0)
fig.patches.append(frame)

fig.savefig('out.png', dpi=100)
